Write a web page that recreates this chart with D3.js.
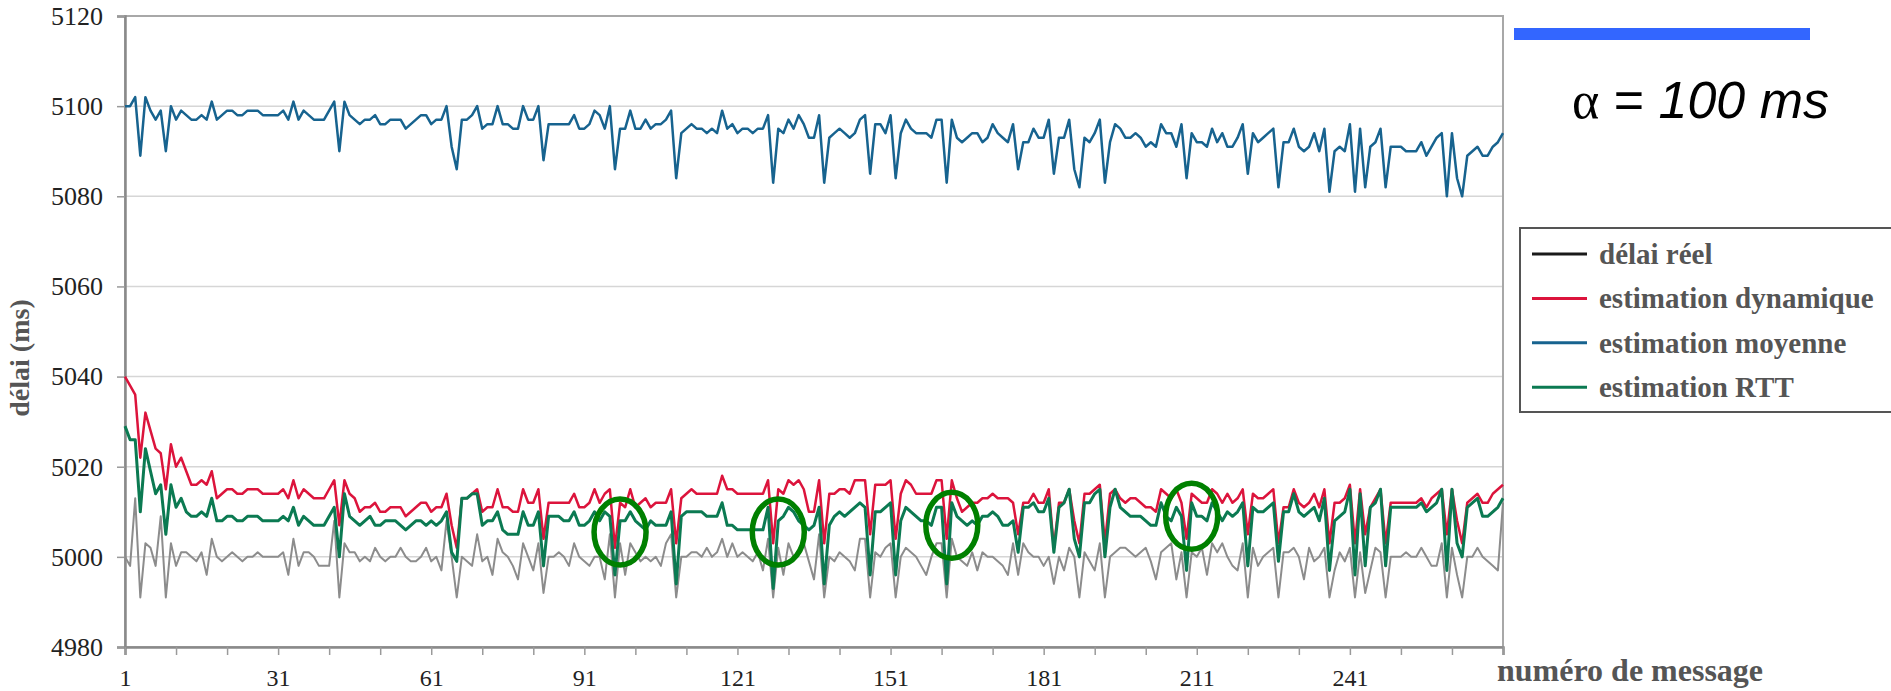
<!DOCTYPE html>
<html>
<head>
<meta charset="utf-8">
<script src="https://d3js.org/d3.v7.min.js"></script>
<style>
  body { margin: 0; background: #fff; }
  svg { display: block; }
</style>
</head>
<body>
<div id="chart"></div>
<script>
// délai réel (ms), messages 1..271
var delaiReel = [
  5000, 4998, 5013, 4991, 5003, 5002, 4998, 5009, 4991, 5003,
  4998, 5001, 5001, 5000, 4999, 5001, 4996, 5004, 5000, 4999,
  5000, 5001, 5000, 4999, 5000, 5000, 5001, 5000, 5000, 5000,
  5000, 5001, 4996, 5004, 4998, 5001, 5001, 5000, 4998, 4998,
  4998, 5008, 4991, 5003, 5001, 5001, 4999, 5000, 4999, 5002,
  5000, 4999, 5000, 5000, 5002, 5000, 4999, 4999, 5000, 5002,
  4999, 5000, 4997, 5008, 5000, 4991, 5000, 4999, 4998, 5005,
  4999, 5000, 4996, 5004, 5001, 5000, 4998, 4995, 5003, 5000,
  4997, 5003, 4992, 5000, 5000, 5001, 5000, 4998, 5003, 5000,
  4999, 4998, 5000, 5000, 4995, 5005, 4991, 5003, 4996, 5003,
  5001, 4999, 5000, 4999, 5000, 4998, 5003, 5005, 4991, 5000,
  5000, 5001, 5001, 5000, 5002, 5000, 5001, 5004, 5000, 5003,
  5000, 5001, 5000, 4999, 5001, 4997, 5004, 4991, 5002, 4996,
  5003, 5000, 5001, 5003, 4999, 4995, 5005, 4991, 5000, 4999,
  5001, 5000, 4999, 4997, 5004, 5004, 4991, 5001, 5000, 5002,
  5003, 4991, 5000, 5002, 5001, 5000, 4998, 4996, 5000, 5003,
  5003, 4991, 5004, 5000, 4999, 4998, 5001, 4997, 5001, 5000,
  5000, 4999, 4998, 4996, 5003, 4996, 5003, 5001, 5000, 5000,
  4998, 5000, 4994, 5000, 4997, 5002, 5000, 4991, 5001, 4999,
  4997, 5003, 4991, 5000, 5001, 5002, 5002, 5001, 5000, 5001,
  5002, 4999, 4995, 5001, 5002, 5003, 4995, 5001, 4991, 5001,
  5000, 5002, 4996, 5003, 5001, 5003, 5000, 4998, 4997, 5003,
  4991, 5002, 4998, 5000, 5001, 5002, 4991, 5001, 5001, 5002,
  5000, 4995, 5002, 4999, 5000, 5002, 4991, 4997, 5001, 4999,
  5002, 4991, 5001, 4992, 4997, 5002, 5001, 4991, 5000, 5000,
  5000, 5001, 5000, 5000, 5002, 5000, 4998, 4998, 5003, 4991,
  5002, 4996, 4991, 5000, 5000, 5002, 5000, 4999, 4998, 4997,
  5012
];

// estimation dynamique
var estDynamique = [
  5040, 5038, 5036, 5022, 5032, 5028, 5024, 5023, 5015, 5025,
  5020, 5022, 5019, 5016, 5016, 5017, 5016, 5019, 5013, 5014,
  5015, 5015, 5014, 5014, 5015, 5015, 5015, 5014, 5014, 5014,
  5014, 5015, 5013, 5017, 5013, 5015, 5014, 5013, 5013, 5013,
  5015, 5017, 5007, 5017, 5014, 5013, 5010, 5011, 5011, 5012,
  5010, 5010, 5011, 5011, 5011, 5009, 5010, 5011, 5012, 5012,
  5010, 5011, 5011, 5014, 5007, 5002, 5013, 5013, 5014, 5015,
  5010, 5011, 5011, 5015, 5011, 5011, 5010, 5010, 5015, 5012,
  5012, 5015, 5004, 5012, 5012, 5012, 5012, 5012, 5014, 5011,
  5011, 5012, 5015, 5012, 5014, 5015, 5002, 5012, 5011, 5015,
  5011, 5012, 5013, 5011, 5012, 5012, 5012, 5015, 5003, 5013,
  5014, 5015, 5014, 5014, 5014, 5014, 5014, 5018, 5015, 5015,
  5014, 5014, 5014, 5014, 5014, 5014, 5017, 5003, 5015, 5014,
  5017, 5016, 5017, 5015, 5010, 5010, 5017, 5003, 5014, 5014,
  5015, 5015, 5014, 5017, 5017, 5017, 5005, 5016, 5016, 5016,
  5017, 5004, 5014, 5017, 5016, 5014, 5014, 5014, 5014, 5017,
  5017, 5004, 5017, 5013, 5010, 5011, 5012, 5012, 5013, 5013,
  5014, 5013, 5013, 5013, 5012, 5005, 5012, 5012, 5014, 5012,
  5012, 5015, 5002, 5012, 5012, 5015, 5008, 5003, 5014, 5014,
  5015, 5016, 5003, 5014, 5015, 5013, 5012, 5013, 5013, 5012,
  5011, 5011, 5010, 5015, 5014, 5013, 5015, 5012, 5004, 5014,
  5013, 5012, 5012, 5015, 5014, 5012, 5014, 5012, 5013, 5015,
  5005, 5014, 5013, 5013, 5014, 5015, 5003, 5011, 5011, 5015,
  5012, 5011, 5012, 5014, 5011, 5015, 5003, 5012, 5012, 5013,
  5016, 5003, 5015, 5005, 5011, 5013, 5015, 5003, 5012, 5012,
  5012, 5012, 5012, 5012, 5013, 5011, 5013, 5014, 5015, 5005,
  5015, 5008, 5003, 5012, 5013, 5014, 5012, 5012, 5014, 5015,
  5016
];

// estimation moyenne
var estMoyenne = [
  5100, 5100, 5102, 5089, 5102, 5099, 5097, 5099, 5090, 5100,
  5097, 5099, 5098, 5097, 5097, 5098, 5097, 5101, 5097, 5098,
  5099, 5099, 5098, 5098, 5099, 5099, 5099, 5098, 5098, 5098,
  5098, 5099, 5097, 5101, 5097, 5099, 5098, 5097, 5097, 5097,
  5099, 5101, 5090, 5101, 5098, 5097, 5096, 5097, 5097, 5098,
  5096, 5096, 5097, 5097, 5097, 5095, 5096, 5097, 5098, 5098,
  5096, 5097, 5097, 5100, 5091, 5086, 5097, 5097, 5098, 5100,
  5095, 5096, 5096, 5100, 5096, 5096, 5095, 5095, 5100, 5097,
  5097, 5100, 5088, 5096, 5096, 5096, 5096, 5096, 5098, 5095,
  5095, 5096, 5099, 5098, 5095, 5100, 5086, 5095, 5095, 5099,
  5095, 5095, 5097, 5095, 5096, 5096, 5097, 5099, 5084, 5094,
  5095, 5096, 5095, 5095, 5094, 5095, 5094, 5099, 5095, 5096,
  5094, 5095, 5095, 5094, 5095, 5095, 5098, 5083, 5095, 5094,
  5097, 5095, 5098, 5096, 5093, 5093, 5098, 5083, 5093, 5094,
  5095, 5094, 5093, 5094, 5097, 5098, 5085, 5096, 5096, 5094,
  5098, 5084, 5094, 5097, 5095, 5094, 5094, 5094, 5093, 5097,
  5097, 5083, 5097, 5093, 5092, 5093, 5094, 5094, 5092, 5093,
  5096, 5094, 5093, 5092, 5096, 5086, 5092, 5092, 5095, 5093,
  5093, 5097, 5085, 5093, 5093, 5097, 5086, 5082, 5093, 5092,
  5094, 5097, 5083, 5092, 5096, 5095, 5093, 5093, 5094, 5093,
  5091, 5092, 5091, 5096, 5094, 5094, 5091, 5096, 5084, 5094,
  5092, 5092, 5091, 5095, 5092, 5094, 5091, 5091, 5093, 5096,
  5085, 5094, 5092, 5093, 5094, 5095, 5082, 5092, 5092, 5095,
  5091, 5090, 5091, 5094, 5090, 5095, 5081, 5090, 5091, 5090,
  5096, 5081, 5095, 5082, 5091, 5092, 5095, 5082, 5091, 5091,
  5091, 5090, 5090, 5090, 5092, 5089, 5091, 5093, 5094, 5080,
  5094, 5084, 5080, 5089, 5090, 5091, 5089, 5089, 5091, 5092,
  5094
];

// estimation RTT
var estRTT = [
  5029, 5026, 5026, 5010, 5024, 5019, 5014, 5016, 5005, 5016,
  5011, 5013, 5010, 5009, 5009, 5010, 5009, 5013, 5008, 5008,
  5009, 5009, 5008, 5008, 5009, 5009, 5009, 5008, 5008, 5008,
  5008, 5009, 5008, 5011, 5007, 5009, 5008, 5007, 5007, 5007,
  5009, 5011, 5000, 5014, 5009, 5008, 5007, 5008, 5009, 5007,
  5007, 5008, 5008, 5008, 5007, 5006, 5007, 5008, 5008, 5007,
  5008, 5007, 5008, 5010, 5001, 4999, 5013, 5013, 5014, 5014,
  5007, 5008, 5008, 5010, 5006, 5005, 5005, 5005, 5010, 5007,
  5007, 5010, 4998, 5009, 5009, 5009, 5008, 5008, 5010, 5007,
  5007, 5008, 5010, 5008, 5010, 5009, 4996, 5008, 5008, 5010,
  5008, 5007, 5006, 5008, 5007, 5007, 5007, 5010, 4994, 5009,
  5010, 5010, 5010, 5010, 5009, 5009, 5009, 5012, 5007, 5007,
  5006, 5006, 5006, 5006, 5006, 5006, 5011, 4993, 5008, 5009,
  5011, 5010, 5008, 5007, 5006, 5007, 5011, 4994, 5007, 5009,
  5010, 5009, 5010, 5011, 5012, 5011, 4996, 5010, 5010, 5011,
  5012, 4996, 5008, 5011, 5010, 5009, 5008, 5008, 5007, 5011,
  5011, 4994, 5012, 5009, 5008, 5007, 5008, 5007, 5009, 5009,
  5010, 5009, 5007, 5007, 5008, 5001, 5011, 5011, 5012, 5010,
  5010, 5013, 5001, 5011, 5012, 5015, 5004, 5000, 5012, 5012,
  5014, 5015, 5000, 5011, 5015, 5011, 5010, 5009, 5009, 5009,
  5008, 5007, 5007, 5012, 5009, 5008, 5011, 5009, 4997, 5012,
  5009, 5009, 5008, 5012, 5010, 5008, 5010, 5009, 5010, 5012,
  4998, 5011, 5010, 5010, 5011, 5012, 4999, 5010, 5010, 5014,
  5010, 5009, 5010, 5011, 5008, 5013, 4997, 5008, 5009, 5010,
  5015, 4996, 5014, 4998, 5011, 5012, 5015, 4998, 5011, 5011,
  5011, 5011, 5011, 5011, 5012, 5010, 5011, 5012, 5015, 4997,
  5015, 5003, 5000, 5011, 5012, 5013, 5009, 5009, 5010, 5011,
  5013
];

var seriesNames = ["délai réel", "estimation dynamique", "estimation moyenne", "estimation RTT"];
var xTickLabels = [1, 31, 61, 91, 121, 151, 181, 211, 241];
var yTicks = [4980, 5000, 5020, 5040, 5060, 5080, 5100, 5120];

// circled spots (message number, delay)
var circledMessages = [98, 129, 163, 210];
var circledValues = [5005.5, 5005.5, 5007, 5009];

var svgWidth = 1891;
var svgHeight = 691;

var margin = {
  top: 16,
  right: 388,
  bottom: 44,
  left: 125
};

var width = svgWidth - margin.left - margin.right;
var height = svgHeight - margin.top - margin.bottom;

var svg = d3.select("#chart")
  .append("svg")
  .attr("width", svgWidth)
  .attr("height", svgHeight);

var chartGroup = svg.append("g")
  .attr("transform", `translate(${margin.left}, ${margin.top})`);

var n = delaiReel.length;

var xLinearScale = d3.scaleLinear()
  .domain([1, n])
  .range([0, width]);

var yLinearScale = d3.scaleLinear()
  .domain([4980, 5120])
  .range([height, 0]);

// horizontal gridlines
chartGroup.append("g")
  .selectAll("line")
  .data(yTicks)
  .enter()
  .append("line")
  .attr("x1", 0)
  .attr("x2", width)
  .attr("y1", d => yLinearScale(d))
  .attr("y2", d => yLinearScale(d))
  .attr("stroke", "#d6d6d6")
  .attr("stroke-width", 1.5);

// plot frame
chartGroup.append("rect")
  .attr("x", 0)
  .attr("y", 0)
  .attr("width", width)
  .attr("height", height)
  .attr("fill", "none")
  .attr("stroke", "#a8a8a8")
  .attr("stroke-width", 2);

// axes
var leftAxis = d3.axisLeft(yLinearScale)
  .tickValues(yTicks)
  .tickSize(8)
  .tickPadding(14)
  .tickFormat(d => String(d));

var bottomAxis = d3.axisBottom(xLinearScale)
  .tickValues(d3.range(1, n + 1, 10))
  .tickSize(8)
  .tickPadding(14)
  .tickFormat(d => xTickLabels.indexOf(d) >= 0 ? String(d) : "");

var yAxis = chartGroup.append("g")
  .call(leftAxis);

var xAxis = chartGroup.append("g")
  .attr("transform", `translate(0, ${height})`)
  .call(bottomAxis);

[xAxis, yAxis].forEach(function(ax) {
  ax.select(".domain")
    .attr("stroke", "#8a8a8a")
    .attr("stroke-width", 2.5);
  ax.selectAll(".tick line")
    .attr("stroke", "#9a9a9a")
    .attr("stroke-width", 1.5);
  ax.selectAll("text")
    .attr("font-family", "'Liberation Serif', 'Times New Roman', serif")
    .attr("fill", "#222");
});

yAxis.selectAll("text").attr("font-size", "26px");
xAxis.selectAll("text").attr("font-size", "24px");

// lines
var lineColors = ["#8c8c8c", "#dc143c", "#17638f", "#0b7a52"];
var lineWidths = [2, 2.5, 2.5, 3];
var allSeries = [delaiReel, estDynamique, estMoyenne, estRTT];

var lineGen = d3.line()
  .x((d, i) => xLinearScale(i + 1))
  .y(d => yLinearScale(d));

chartGroup.append("g")
  .selectAll("path")
  .data(allSeries)
  .enter()
  .append("path")
  .attr("d", d => lineGen(d))
  .attr("fill", "none")
  .attr("stroke", (d, i) => lineColors[i])
  .attr("stroke-width", (d, i) => lineWidths[i])
  .attr("stroke-linejoin", "round");

// green circles highlighting the dips
chartGroup.append("g")
  .selectAll("ellipse")
  .data(circledMessages)
  .enter()
  .append("ellipse")
  .attr("cx", d => xLinearScale(d))
  .attr("cy", (d, i) => yLinearScale(circledValues[i]))
  .attr("rx", 26)
  .attr("ry", 33)
  .attr("fill", "none")
  .attr("stroke", "#008000")
  .attr("stroke-width", 5.5);

// axis titles
svg.append("text")
  .attr("x", 1497)
  .attr("y", 681)
  .attr("font-family", "'Liberation Serif', 'Times New Roman', serif")
  .attr("font-weight", "bold")
  .attr("font-size", "32px")
  .attr("fill", "#555")
  .text("numéro de message");

svg.append("text")
  .attr("transform", "translate(29, 358) rotate(-90)")
  .attr("text-anchor", "middle")
  .attr("font-family", "'Liberation Serif', 'Times New Roman', serif")
  .attr("font-weight", "bold")
  .attr("font-size", "28px")
  .attr("fill", "#555")
  .text("délai (ms)");

// legend
var legendColors = ["#1a1a1a", "#dc143c", "#17638f", "#0b7a52"];

var legend = svg.append("g");

legend.append("rect")
  .attr("x", 1520)
  .attr("y", 228)
  .attr("width", 380)
  .attr("height", 184)
  .attr("fill", "#fff")
  .attr("stroke", "#555")
  .attr("stroke-width", 2);

var legendItems = legend.selectAll(".item")
  .data(seriesNames)
  .enter()
  .append("g")
  .attr("transform", (d, i) => `translate(1532, ${254 + i * 44.4})`);

legendItems.append("line")
  .attr("x1", 0)
  .attr("x2", 55)
  .attr("stroke", (d, i) => legendColors[i])
  .attr("stroke-width", 3);

legendItems.append("text")
  .attr("x", 67)
  .attr("y", 10)
  .attr("font-family", "'Liberation Serif', 'Times New Roman', serif")
  .attr("font-weight", "bold")
  .attr("font-size", "29px")
  .attr("fill", "#555")
  .text(d => d);

// blue bar and alpha label
svg.append("rect")
  .attr("x", 1514)
  .attr("y", 28)
  .attr("width", 296)
  .attr("height", 12)
  .attr("fill", "#3366ff");

var alphaText = svg.append("text")
  .attr("x", 1572)
  .attr("y", 118)
  .attr("font-family", "'Liberation Sans', Arial, sans-serif")
  .attr("font-size", "52px")
  .attr("fill", "#000");

alphaText.append("tspan")
  .attr("font-family", "'Liberation Serif', 'Times New Roman', serif")
  .text("α");

alphaText.append("tspan")
  .attr("xml:space", "preserve")
  .text(" = ");

alphaText.append("tspan")
  .attr("font-style", "italic")
  .text("100 ms");
</script>
</body>
</html>
